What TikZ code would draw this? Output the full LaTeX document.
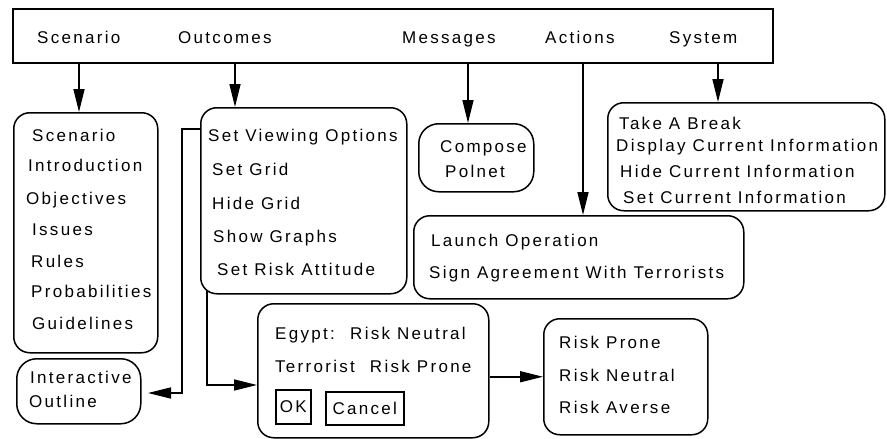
\documentclass[tikz,border=0pt]{standalone}
\usepackage{fontspec}
\newfontfamily\uifont[LetterSpace=13.5]{Liberation Sans}
\usetikzlibrary{arrows.meta}
\begin{document}
\begin{tikzpicture}[x=1pt,y=-1pt,
  rbox/.style={draw, line width=1.5pt, rounded corners=16pt, anchor=north west, inner sep=0pt},
  sbox/.style={draw, line width=1.5pt, anchor=north west, inner sep=0pt},
  txt/.style={anchor=base west, inner sep=0pt, font=\uifont\fontsize{17}{20}\selectfont},
  btn/.style={inner sep=0pt, font=\uifont\fontsize{17}{20}\selectfont},
  arr/.style={line width=1.5pt, -{Triangle[length=23pt,width=11pt]}},
  ln/.style={line width=1.5pt}]
\fill[white] (0,0) rectangle (887,439);
\useasboundingbox (0,0) rectangle (887,439);

% menu bar
\node[sbox, minimum width=760pt, minimum height=54pt] (bar) at (12,8) {};
\node[txt] (mScen) at (37,43) {Scenario};
\node[txt] (mOut) at (178,43) {Outcomes};
\node[txt] (mMsg) at (402,43) {Messages};
\node[txt] (mAct) at (545,43) {Actions};
\node[txt] (mSys) at (669,43) {System};

% boxes
\node[rbox, minimum width=144pt, minimum height=240pt] (scenbox) at (13,112) {};
\node[rbox, minimum width=206pt, minimum height=186pt] (outbox) at (200,107) {};
\node[rbox, rounded corners=20pt, minimum width=115pt, minimum height=68pt] (compbox) at (418,123) {};
\node[rbox, minimum width=277pt, minimum height=108pt] (sysbox) at (607,102) {};
\node[rbox, minimum width=330pt, minimum height=83pt] (launchbox) at (413,215) {};
\node[rbox, rounded corners=20pt, minimum width=124pt, minimum height=65pt] (iobox) at (16,358) {};
\node[rbox, minimum width=231pt, minimum height=134pt] (dlgbox) at (257,303) {};
\node[rbox, minimum width=164pt, minimum height=116pt] (riskbox) at (543,318) {};
\node[sbox, minimum width=35pt, minimum height=34pt] (okbtn) at (275,389) {};
\node[sbox, minimum width=78pt, minimum height=33pt] (cancelbtn) at (325,391) {};

% scenario texts
\node[txt] (t1) at (32,141) {Scenario};
\node[txt] (t2) at (28,171) {Introduction};
\node[txt] (t3) at (26,204) {Objectives};
\node[txt] (t4) at (32,235) {Issues};
\node[txt] (t5) at (31,267) {Rules};
\node[txt] (t6) at (31,297) {Probabilities};
\node[txt] (t7) at (32,329) {Guidelines};

% outcomes texts
\node[txt] (o1) at (208,141) {Set Viewing Options};
\node[txt] (o2) at (212,175) {Set Grid};
\node[txt] (o3) at (212,209) {Hide Grid};
\node[txt] (o4) at (213,242) {Show Graphs};
\node[txt] (o5) at (217,275) {Set Risk Attitude};

% messages texts
\node[txt] (c1) at (440,152) {Compose};
\node[txt] (c2) at (445,177) {Polnet};

% system texts
\node[txt] (y1) at (619,129) {Take A Break};
\node[txt] (y2) at (616,151) {Display Current Information};
\node[txt] (y3) at (620,177) {Hide Current Information};
\node[txt] (y4) at (623,203) {Set Current Information};

% actions texts
\node[txt] (a1) at (431,246) {Launch Operation};
\node[txt] (a2) at (429,278) {Sign Agreement With Terrorists};

% interactive outline
\node[txt] (i1) at (30,383) {Interactive};
\node[txt] (i2) at (29,407) {Outline};

% dialog
\node[txt] (d1) at (275,339) {Egypt:\hspace{6pt} Risk Neutral};
\node[txt] (d2) at (275,372) {Terrorist\hspace{8pt} Risk Prone};
\node[btn] (okt) at (okbtn.center) {OK};
\node[btn] (cat) at (cancelbtn.center) {Cancel};

% risk
\node[txt] (r1) at (559,348) {Risk Prone};
\node[txt] (r2) at (559,381) {Risk Neutral};
\node[txt] (r3) at (559,413) {Risk Averse};

% connectors
\coordinate (sA) at (79,62);
\coordinate (oA) at (235,62);
\coordinate (mA) at (468,62);
\coordinate (aA) at (583,62);
\coordinate (yA) at (718,62);
\draw[arr] (sA) -- (sA |- scenbox.north);
\draw[arr] (oA) -- (oA |- outbox.north);
\draw[arr] (mA) -- (mA |- compbox.north);
\draw[arr] (aA) -- (aA |- launchbox.north);
\draw[arr] (yA) -- (yA |- sysbox.north);

\coordinate (oL) at (200,129);
\coordinate (ioTip) at (148,393);
\draw[arr] (oL) -- ++(-18,0) |- (ioTip);

\coordinate (oB) at (207,291);
\coordinate (dIn) at (257,385);
\draw[arr] (oB) |- (dIn);

\draw[arr] (dlgbox.east |- riskbox.west) -- (riskbox.west);
\end{tikzpicture}
\end{document}
